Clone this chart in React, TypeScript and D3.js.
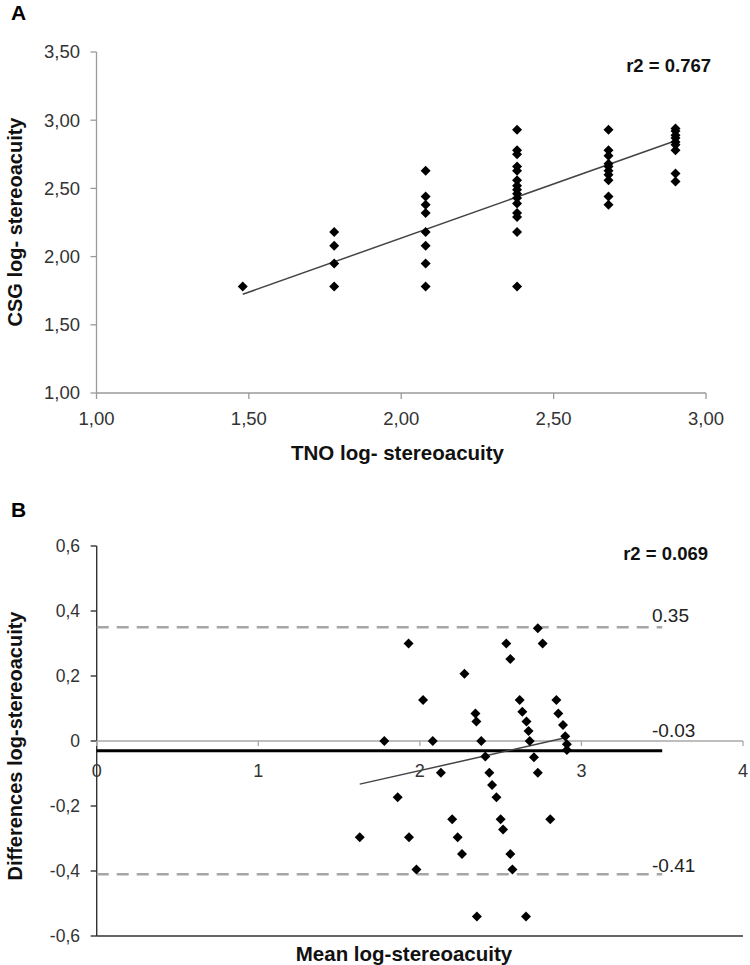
import React from "react";
import * as d3 from "d3";

// ---------- Panel A data ----------
const tnoA = [
  1.48,
  1.78, 1.78, 1.78, 1.78,
  2.08, 2.08, 2.08, 2.08, 2.08, 2.08, 2.08, 2.08,
  2.38, 2.38, 2.38, 2.38, 2.38, 2.38, 2.38, 2.38, 2.38, 2.38, 2.38, 2.38, 2.38, 2.38, 2.38,
  2.68, 2.68, 2.68, 2.68, 2.68, 2.68, 2.68, 2.68, 2.68, 2.68,
  2.9, 2.9, 2.9, 2.9, 2.9, 2.9, 2.9, 2.9, 2.9,
];
const csgA = [
  1.78,
  2.18, 2.08, 1.95, 1.78,
  2.63, 2.44, 2.38, 2.32, 2.18, 2.08, 1.95, 1.78,
  2.93, 2.78, 2.75, 2.66, 2.63, 2.56, 2.52, 2.49, 2.46, 2.43, 2.39, 2.32, 2.29, 2.18, 1.78,
  2.93, 2.78, 2.74, 2.68, 2.66, 2.63, 2.6, 2.56, 2.44, 2.38,
  2.94, 2.92, 2.89, 2.87, 2.84, 2.82, 2.78, 2.61, 2.55,
];
const xTicksA = [1.0, 1.5, 2.0, 2.5, 3.0];
const yTicksA = [1.0, 1.5, 2.0, 2.5, 3.0, 3.5];
const fitA = { slope: 0.793, intercept: 0.55, from: 1.48, to: 2.9 };
const r2A = "r2 = 0.767";

// ---------- Panel B data ----------
const meanB = [
  1.93, 2.535, 2.73, 2.76, 2.56, 2.276, 2.02, 2.618, 2.845, 2.344, 2.35,
  2.634, 2.66, 2.673, 2.68, 2.857, 2.886, 2.9, 2.91, 2.91, 1.78, 2.08,
  2.38, 2.405, 2.13, 2.43, 2.447, 2.474, 2.706, 2.73, 1.863, 2.2, 2.5,
  2.515, 2.807, 1.628, 1.933, 2.234, 2.261, 2.56, 1.979, 2.573, 2.353, 2.657,
];
const diffB = [
  0.3, 0.3, 0.347, 0.3, 0.252, 0.207, 0.126, 0.126, 0.126, 0.085, 0.06,
  0.09, 0.06, 0.031, 0.0, 0.085, 0.049, 0.015, -0.01, -0.028, 0.0, 0.0,
  0.0, -0.048, -0.098, -0.098, -0.135, -0.173, -0.05, -0.098, -0.173, -0.241, -0.241,
  -0.272, -0.241, -0.296, -0.296, -0.296, -0.348, -0.348, -0.395, -0.395, -0.54, -0.54,
];
const xTicksB = [0, 1, 2, 3, 4];
const yTicksB = [-0.6, -0.4, -0.2, 0, 0.2, 0.4, 0.6];
const meanDiff = -0.03;
const upperLoA = 0.35;
const lowerLoA = -0.41;
const refLineEnd = 3.5;
const fitB = { slope: 0.112, intercept: -0.315, from: 1.628, to: 2.886 };
const r2B = "r2 = 0.069";

const FONT = "'Liberation Sans', Arial, sans-serif";

const diamond = (cx: number, cy: number, r: number) =>
  `M${cx},${cy - r}L${cx + r},${cy}L${cx},${cy + r}L${cx - r},${cy}Z`;

const fmtA = (v: number) => d3.format(".2f")(v).replace(".", ",");
const fmtB = (v: number) =>
  Math.abs(v) < 1e-9 ? "0" : d3.format(".1f")(v).replace(".", ",").replace("\u2212", "-");
const fmtLab = (v: number) => d3.format(".2f")(v).replace("\u2212", "-");

export default function App() {
  // scales
  const xA = d3.scaleLinear().domain([1, 3]).range([96.5, 706]);
  const yA = d3.scaleLinear().domain([1, 3.5]).range([393, 52]);
  const xB = d3.scaleLinear().domain([0, 4]).range([96.7, 743]);
  const yB = d3.scaleLinear().domain([-0.6, 0.6]).range([936, 546]);

  const axisGrayA = "#9a9a9a";
  const tickTextColor = "#333";

  const lineA = d3.line<number>().x((d) => xA(d)).y((d) => yA(fitA.intercept + fitA.slope * d));
  const lineB = d3.line<number>().x((d) => xB(d)).y((d) => yB(fitB.intercept + fitB.slope * d));

  return (
    <svg
      width={750}
      height={965}
      style={{ position: "absolute", left: 0, top: 0, background: "#fff" }}
      fontFamily={FONT}
    >
      <rect x={0} y={0} width={750} height={965} fill="#fff" />

      {/* ================= Panel A ================= */}
      <text x={11} y={20} fontSize={21} fontWeight="bold" fill="#000">A</text>

      {/* axes */}
      <line x1={xA(1)} x2={xA(1)} y1={yA(3.5)} y2={yA(1)} stroke={axisGrayA} strokeWidth={1.3} />
      <line x1={xA(1)} x2={xA(3)} y1={yA(1)} y2={yA(1)} stroke={axisGrayA} strokeWidth={1.3} />
      {yTicksA.map((t) => (
        <g key={"ya" + t}>
          <line x1={xA(1) - 6} x2={xA(1)} y1={yA(t)} y2={yA(t)} stroke={axisGrayA} strokeWidth={1.3} />
          <text x={80} y={yA(t)} dy="0.35em" textAnchor="end" fontSize={18.5} fill={tickTextColor}>
            {fmtA(t)}
          </text>
        </g>
      ))}
      {xTicksA.map((t) => (
        <g key={"xa" + t}>
          <line x1={xA(t)} x2={xA(t)} y1={yA(1)} y2={yA(1) + 6} stroke={axisGrayA} strokeWidth={1.3} />
          <text x={xA(t)} y={425} textAnchor="middle" fontSize={18.5} fill={tickTextColor}>
            {fmtA(t)}
          </text>
        </g>
      ))}

      {/* titles */}
      <text x={397.5} y={460} textAnchor="middle" fontSize={20.5} fontWeight="bold" fill="#111">
        TNO log- stereoacuity
      </text>
      <text
        transform={`translate(21.5,222) rotate(-90)`}
        textAnchor="middle"
        fontSize={20}
        fontWeight="bold"
        fill="#111"
      >
        CSG log- stereoacuity
      </text>
      <text x={711} y={71.5} textAnchor="end" fontSize={18.5} fontWeight="bold" fill="#111">
        {r2A}
      </text>

      {/* regression */}
      <path d={lineA([fitA.from, fitA.to]) || ""} stroke="#444" strokeWidth={1.5} fill="none" />

      {/* points */}
      {tnoA.map((x, i) => (
        <path key={"pa" + i} d={diamond(xA(x), yA(csgA[i]), 5)} fill="#000" />
      ))}

      {/* ================= Panel B ================= */}
      <text x={11} y={517} fontSize={21} fontWeight="bold" fill="#000">B</text>

      {/* y axis */}
      <line x1={xB(0)} x2={xB(0)} y1={yB(0.6)} y2={yB(-0.6)} stroke="#333" strokeWidth={1.4} />
      {yTicksB.map((t) => (
        <g key={"yb" + t}>
          <line x1={xB(0) - 6} x2={xB(0)} y1={yB(t)} y2={yB(t)} stroke="#333" strokeWidth={1.4} />
          <text x={80} y={yB(t)} dy="0.35em" textAnchor="end" fontSize={17.5} fill={tickTextColor}>
            {fmtB(t)}
          </text>
        </g>
      ))}
      {/* bottom border */}
      <line x1={xB(0)} x2={xB(4)} y1={yB(-0.6)} y2={yB(-0.6)} stroke="#333" strokeWidth={1.4} />

      {/* x axis at 0 */}
      <line x1={xB(0)} x2={xB(4)} y1={yB(0)} y2={yB(0)} stroke="#a8a8a8" strokeWidth={1.3} />
      {xTicksB.map((t) => (
        <g key={"xb" + t}>
          <line x1={xB(t)} x2={xB(t)} y1={yB(0)} y2={yB(0) + 5} stroke="#a8a8a8" strokeWidth={1.3} />
          <text x={xB(t)} y={777} textAnchor="middle" fontSize={18} fill={tickTextColor}>
            {t}
          </text>
        </g>
      ))}

      {/* limits of agreement */}
      <line
        x1={xB(0)}
        x2={xB(refLineEnd)}
        y1={yB(upperLoA)}
        y2={yB(upperLoA)}
        stroke="#a6a6a6"
        strokeWidth={2.5}
        strokeDasharray="12,8"
      />
      <line
        x1={xB(0)}
        x2={xB(refLineEnd)}
        y1={yB(lowerLoA)}
        y2={yB(lowerLoA)}
        stroke="#a6a6a6"
        strokeWidth={2.5}
        strokeDasharray="12,8"
      />
      <line
        x1={xB(0)}
        x2={xB(refLineEnd)}
        y1={yB(meanDiff)}
        y2={yB(meanDiff)}
        stroke="#000"
        strokeWidth={3}
      />
      <text x={652} y={622} fontSize={19} fill="#222">{fmtLab(upperLoA)}</text>
      <text x={652} y={737} fontSize={19} fill="#222">{fmtLab(meanDiff)}</text>
      <text x={652} y={872} fontSize={19} fill="#222">{fmtLab(lowerLoA)}</text>

      {/* regression */}
      <path d={lineB([fitB.from, fitB.to]) || ""} stroke="#444" strokeWidth={1.5} fill="none" />

      {/* points */}
      {meanB.map((x, i) => (
        <path key={"pb" + i} d={diamond(xB(x), yB(diffB[i]), 5)} fill="#000" />
      ))}

      {/* titles */}
      <text x={404} y={961} textAnchor="middle" fontSize={20.5} fontWeight="bold" fill="#111">
        Mean log-stereoacuity
      </text>
      <text
        transform={`translate(21.5,746) rotate(-90)`}
        textAnchor="middle"
        fontSize={20}
        fontWeight="bold"
        fill="#111"
      >
        Differences log-stereoacuity
      </text>
      <text x={708} y={560} textAnchor="end" fontSize={18.5} fontWeight="bold" fill="#111">
        {r2B}
      </text>
    </svg>
  );
}
